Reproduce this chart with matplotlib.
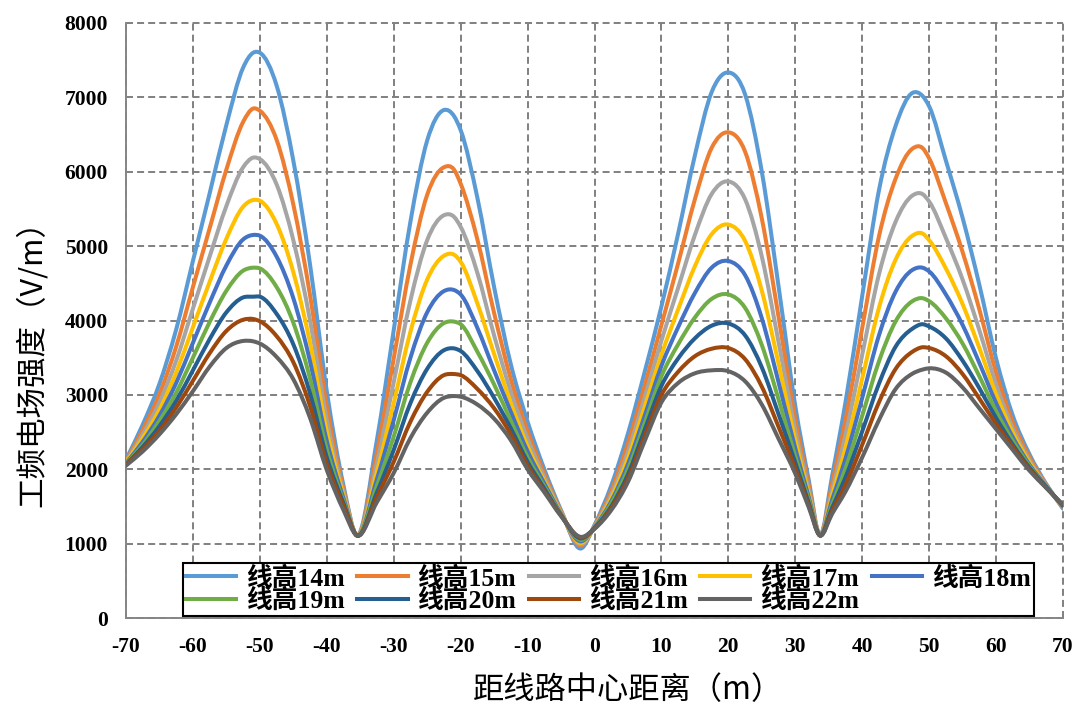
import matplotlib
matplotlib.use("Agg")
import matplotlib.pyplot as plt
from matplotlib.path import Path
from matplotlib.patches import PathPatch
from matplotlib.lines import Line2D

# distance from line centre (m)
x_m = [-70, -67.5, -65, -62.5, -60, -57.5, -55, -52.5, -51, -50, -47.5, -45, -42.5, -40, -37.5,
       -35.5, -32.5, -30, -27.5, -25, -22.5, -21, -20, -17.5, -15, -12.5, -10, -7.5, -5, -2,
       0, 2.5, 5, 7.5, 10, 12.5, 15, 17.5, 20, 22.5, 25, 27.5, 30, 32, 33.7,
       35.5, 37.5, 40, 42.5, 45, 47.5, 49, 50, 52.5, 55, 57.5, 60, 62.5, 65, 67.5, 70]

h14 = [2130, 2600, 3150, 3880, 4800, 5710, 6630, 7400, 7600, 7600, 7160, 6150, 4750, 3050, 1780,
       1110, 2400, 3870, 5330, 6420, 6830, 6750, 6560, 5650, 4450, 3410, 2640, 2000, 1450, 935,
       1250, 1780, 2480, 3310, 4190, 5170, 6220, 7070, 7335, 7040, 6000, 4460, 2850, 1860, 1110,
       1910, 2900, 4330, 5750, 6620, 7060, 7020, 6880, 6150, 5380, 4480, 3490, 2720, 2200, 1800, 1470]
h15 = [2110, 2530, 3010, 3650, 4450, 5240, 6030, 6670, 6850, 6820, 6430, 5560, 4340, 2840, 1730,
       1110, 2230, 3490, 4750, 5690, 6060, 6030, 5840, 5090, 4100, 3210, 2510, 1940, 1430, 970,
       1240, 1710, 2350, 3120, 3940, 4770, 5630, 6320, 6530, 6270, 5370, 4050, 2670, 1790, 1110,
       1810, 2660, 3900, 5130, 5910, 6310, 6320, 6180, 5580, 4920, 4150, 3300, 2630, 2160, 1790, 1480]
h16 = [2100, 2470, 2900, 3460, 4160, 4860, 5540, 6060, 6190, 6170, 5830, 5080, 4000, 2660, 1690,
       1110, 2090, 3170, 4270, 5080, 5415, 5395, 5260, 4640, 3800, 3040, 2410, 1890, 1420, 990,
       1230, 1660, 2240, 2970, 3730, 4440, 5150, 5700, 5870, 5630, 4860, 3710, 2520, 1730, 1110,
       1720, 2460, 3540, 4620, 5330, 5680, 5700, 5600, 5110, 4550, 3870, 3140, 2550, 2120, 1780, 1490]
h17 = [2090, 2420, 2800, 3300, 3910, 4520, 5100, 5530, 5620, 5610, 5300, 4650, 3700, 2510, 1650,
       1110, 1970, 2890, 3850, 4550, 4870, 4885, 4790, 4230, 3550, 2890, 2310, 1840, 1410, 1010,
       1220, 1610, 2150, 2840, 3540, 4150, 4730, 5160, 5290, 5070, 4400, 3420, 2390, 1670, 1110,
       1650, 2290, 3220, 4170, 4820, 5140, 5170, 5080, 4700, 4220, 3630, 3010, 2490, 2090, 1770, 1500]
h18 = [2080, 2370, 2720, 3160, 3700, 4240, 4740, 5090, 5150, 5140, 4860, 4300, 3450, 2380, 1610,
       1110, 1870, 2660, 3500, 4110, 4395, 4410, 4350, 3900, 3330, 2770, 2240, 1810, 1400, 1030,
       1220, 1570, 2070, 2720, 3390, 3910, 4370, 4710, 4800, 4610, 4030, 3170, 2280, 1630, 1110,
       1590, 2140, 2960, 3800, 4390, 4680, 4710, 4660, 4350, 3940, 3430, 2890, 2430, 2060, 1770, 1500]
h19 = [2070, 2330, 2650, 3030, 3500, 3980, 4400, 4670, 4710, 4700, 4450, 3970, 3220, 2260, 1570,
       1110, 1780, 2440, 3170, 3700, 3965, 3985, 3950, 3580, 3140, 2650, 2160, 1770, 1390, 1050,
       1210, 1540, 2000, 2620, 3250, 3680, 4040, 4290, 4350, 4170, 3670, 2940, 2170, 1590, 1110,
       1530, 2010, 2720, 3450, 3990, 4260, 4300, 4260, 4030, 3690, 3250, 2780, 2380, 2040, 1760, 1510]
h20 = [2060, 2300, 2580, 2920, 3330, 3750, 4110, 4310, 4320, 4320, 4090, 3680, 3020, 2160, 1540,
       1110, 1690, 2260, 2890, 3350, 3600, 3625, 3590, 3320, 2960, 2550, 2100, 1740, 1380, 1070,
       1210, 1500, 1930, 2530, 3120, 3490, 3760, 3930, 3960, 3800, 3370, 2740, 2090, 1550, 1110,
       1480, 1890, 2510, 3150, 3650, 3890, 3950, 3920, 3760, 3460, 3090, 2690, 2330, 2020, 1760, 1510]
h21 = [2060, 2270, 2520, 2830, 3190, 3560, 3860, 4010, 4020, 3990, 3790, 3440, 2850, 2070, 1510,
       1110, 1630, 2100, 2640, 3040, 3265, 3280, 3265, 3080, 2820, 2470, 2050, 1710, 1380, 1080,
       1200, 1480, 1880, 2450, 3000, 3310, 3520, 3620, 3630, 3480, 3110, 2570, 2010, 1520, 1110,
       1440, 1790, 2330, 2900, 3350, 3580, 3640, 3630, 3520, 3280, 2950, 2610, 2300, 2000, 1750, 1520]
h22 = [2050, 2240, 2470, 2740, 3050, 3380, 3630, 3725, 3720, 3690, 3510, 3210, 2690, 1990, 1450,
       1110, 1560, 1950, 2420, 2760, 2960, 2984, 2975, 2870, 2680, 2390, 2000, 1690, 1370, 1090,
       1200, 1450, 1830, 2380, 2900, 3160, 3290, 3330, 3318, 3183, 2870, 2410, 1940, 1490, 1110,
       1400, 1700, 2160, 2660, 3080, 3285, 3340, 3357, 3300, 3100, 2820, 2540, 2260, 1980, 1750, 1520]

series = [h14, h15, h16, h17, h18, h19, h20, h21, h22]
labels = ["线高14m", "线高15m", "线高16m", "线高17m", "线高18m",
          "线高19m", "线高20m", "线高21m", "线高22m"]
colors = ["#5B9BD5", "#ED7D31", "#A5A5A5", "#FFC000", "#4472C4",
          "#70AD47", "#255E91", "#9E480E", "#636363"]

x_ticks = list(range(-70, 71, 10))
y_ticks = list(range(0, 8001, 1000))


def smooth_path(xs, ys):
    """Smoothed line (as in the spreadsheet chart): cubic Bezier segments through the data points."""
    n = len(xs)
    h = [xs[i + 1] - xs[i] for i in range(n - 1)]
    d = [(ys[i + 1] - ys[i]) / h[i] for i in range(n - 1)]
    m = [d[0]]
    for i in range(1, n - 1):
        m.append((h[i] * d[i - 1] + h[i - 1] * d[i]) / (h[i - 1] + h[i]))
    m.append(d[-1])
    verts = [(xs[0], ys[0])]
    codes = [Path.MOVETO]
    for i in range(n - 1):
        verts += [(xs[i] + h[i] / 3, ys[i] + m[i] * h[i] / 3),
                  (xs[i + 1] - h[i] / 3, ys[i + 1] - m[i + 1] * h[i] / 3),
                  (xs[i + 1], ys[i + 1])]
        codes += [Path.CURVE4] * 3
    return Path(verts, codes)


fig = plt.figure(figsize=(10.81, 7.10), dpi=100)
ax = fig.add_axes([126 / 1081, 1 - 618 / 710, (1063 - 126) / 1081, (618 - 23) / 710])

handles = []
for k, (vals, lab, col) in enumerate(zip(series, labels, colors)):
    patch = PathPatch(smooth_path(x_m, vals), facecolor="none", edgecolor=col, lw=2.9,
                      joinstyle="round", capstyle="round", zorder=3 + k * 0.01)
    ax.add_patch(patch)
    handles.append(Line2D([], [], color=col, lw=2.9, label=lab))

ax.set_xlim(-70, 70)
ax.set_ylim(0, 8000)
ax.set_xticks(x_ticks)
ax.set_yticks(y_ticks)

tick_font = dict(family="Liberation Serif", weight="bold", size=15.5)
ax.set_xticklabels([str(t) for t in x_ticks], **tick_font)
ax.set_yticklabels([str(t) for t in y_ticks], **tick_font)
ax.tick_params(axis="x", length=0, pad=14)
ax.tick_params(axis="y", length=0, pad=13)

ax.grid(True, color="#808080", linestyle=(0, (3.6, 2.1)), linewidth=1.4)
for gl in ax.get_xgridlines() + ax.get_ygridlines():
    gl.set_clip_on(False)
ax.set_axisbelow(True)

for s in ["top", "right"]:
    ax.spines[s].set_visible(False)
for s in ["left", "bottom"]:
    ax.spines[s].set_color("#868686")
    ax.spines[s].set_linewidth(1.4)

cjk = ["Noto Sans CJK SC", "DejaVu Sans"]
ax.set_ylabel("工频电场强度（V/m）", family=cjk, fontsize=22)
ax.yaxis.label.set_va("center")
ax.yaxis.set_label_coords(-0.1005, 0.44)
ax.set_xlabel("距线路中心距离（m）", family=cjk, fontsize=22.5)
ax.xaxis.label.set_va("center")
ax.xaxis.set_label_coords(0.536, -0.121)

order = [0, 5, 1, 6, 2, 7, 3, 8, 4]
leg = ax.legend([handles[i] for i in order], [labels[i] for i in order], ncol=5,
                loc="upper left", bbox_to_anchor=(183 / 1081, 1 - 563 / 710),
                bbox_transform=fig.transFigure, borderaxespad=0,
                prop=dict(family=["Liberation Serif", "Noto Sans CJK SC"], weight="bold", size=18.5),
                frameon=True, fancybox=False, framealpha=1, edgecolor="black",
                borderpad=0.12, labelspacing=-0.08, handlelength=1.95, handletextpad=0.38,
                columnspacing=0.5)
leg.get_frame().set_linewidth(1.5)
leg.set_zorder(10)

fig.savefig("out.png", dpi=100)
